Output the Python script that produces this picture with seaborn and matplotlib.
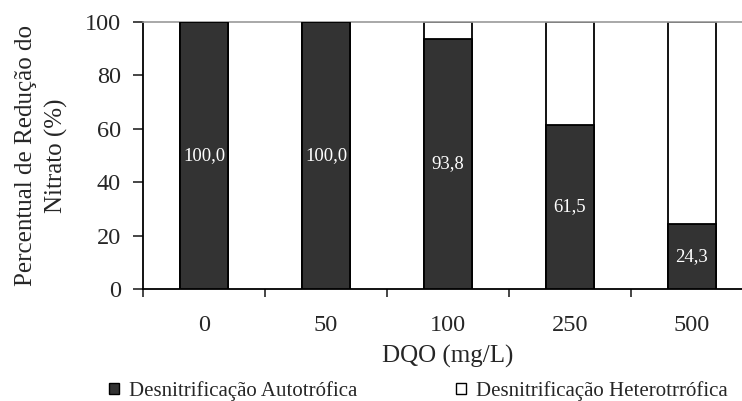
import matplotlib
matplotlib.use("Agg")
import matplotlib.pyplot as plt
import seaborn as sns
import pandas as pd
from matplotlib.patches import Patch
from matplotlib.ticker import FixedLocator

categories = ["0", "50", "100", "250", "500"]
autotrofica = [100.0, 100.0, 93.8, 61.5, 24.3]
heterotrofica = [0.0, 0.0, 6.2, 38.5, 75.7]
bar_labels = ["100,0", "100,0", "93,8", "61,5", "24,3"]

df = pd.DataFrame({"DQO": categories, "auto": autotrofica,
                   "total": [a + h for a, h in zip(autotrofica, heterotrofica)]})

sns.set_style("white")
plt.rcParams["font.family"] = ["Liberation Serif", "DejaVu Serif"]

fig = plt.figure(figsize=(7.42, 4.01), dpi=100)
ax = fig.add_axes([143/742, 1-289/401, 610/742, 267/401])

dark = "#333333"
sns.barplot(data=df, x="DQO", y="total", color="white", edgecolor="black",
            linewidth=1.3, width=0.39, saturation=1, ax=ax, zorder=2)
sns.barplot(data=df, x="DQO", y="auto", color=dark, edgecolor="black",
            linewidth=1.3, width=0.39, saturation=1, ax=ax, zorder=3)

for i, (v, lab) in enumerate(zip(autotrofica, bar_labels)):
    ax.text(i, v/2, lab, ha="center", va="center", color="white",
            fontsize=13.5, zorder=5)

ax.set_ylim(0, 100)
ax.set_xlim(-0.5, 4.5)
ax.set_yticks([0, 20, 40, 60, 80, 100])
ax.tick_params(axis="y", which="major", direction="out", length=7, width=1.2,
               labelsize=17.5, left=True, pad=9)
ax.xaxis.set_major_locator(FixedLocator([-0.5, 0.5, 1.5, 2.5, 3.5, 4.5]))
ax.xaxis.set_minor_locator(FixedLocator([0, 1, 2, 3, 4]))
ax.set_xticklabels([], minor=False)
ax.set_xticklabels(categories, minor=True)
ax.tick_params(axis="x", which="major", direction="out", length=6, width=1.2, bottom=True)
ax.tick_params(axis="x", which="minor", length=0, labelsize=17.5, pad=19)

for s in ["left", "bottom"]:
    ax.spines[s].set_color("black")
    ax.spines[s].set_linewidth(1.3)
ax.spines["right"].set_visible(False)
ax.spines["top"].set_color("#999999")
ax.spines["top"].set_linewidth(1.2)

ax.set_xlabel("DQO (mg/L)", fontsize=18)
ax.xaxis.label.set_va("center")
ax.xaxis.set_label_coords(0.5, (289 - 356) / 267)
ax.set_ylabel("Percentual de Redução do\nNitrato (%)", fontsize=18, linespacing=1.45)
ax.yaxis.label.set_va("center")
ax.yaxis.set_label_coords((41.5 - 143) / 610, 0.5)

handles = [Patch(facecolor=dark, edgecolor="black", linewidth=1.0),
           Patch(facecolor="white", edgecolor="black", linewidth=1.0)]
fig.legend(handles, ["Desnitrificação Autotrófica", "Desnitrificação Heterotrrófica"],
           loc="center left", bbox_to_anchor=(109/742, 10/401), ncol=2, frameon=False,
           fontsize=15.0, handlelength=0.48, handleheight=0.48, handletextpad=0.48,
           columnspacing=4.75, borderpad=0, borderaxespad=0)

fig.savefig("out.png", dpi=100)
